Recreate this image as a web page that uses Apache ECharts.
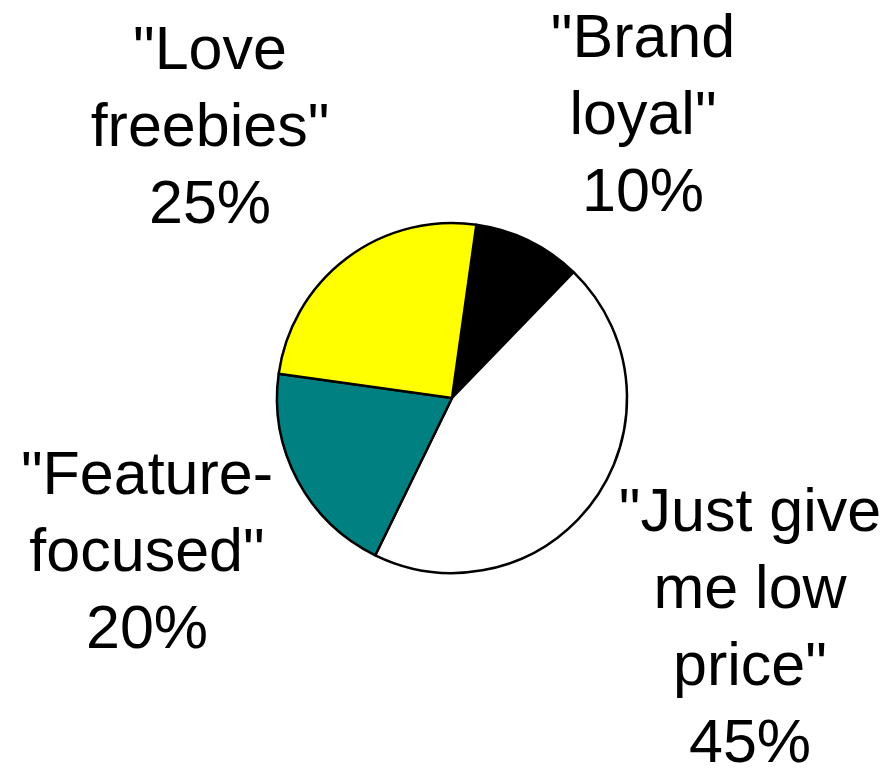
<!doctype html>
<html lang="en">
    <head>
        <meta charset="UTF-8">
        <title>Pie</title>
        <style>
            html, body { margin: 0; padding: 0; background: #fff; }
            #main { width: 890px; height: 770px; }
        </style>
    </head>
    <body>
        <div id="main"></div>
        <script src="https://cdn.jsdelivr.net/npm/echarts@6/dist/echarts.min.js"></script>
        <script type="text/javascript">
        // 数据
        var names = ['"Brand\nloyal"', '"Just give\nme low\nprice"', '"Feature-\nfocused"', '"Love\nfreebies"'];
        var values = [10, 45, 20, 25];
        var colors = ['#000000', '#ffffff', '#008080', '#ffff00'];

        // label anchor (center of each text block)
        var labelPos = [[643, 117], [750, 630], [147, 554], [210, 129]];

        var myChart = echarts.init(document.getElementById('main'));

        var option = {
            backgroundColor: '#fff',
            animation: false,
            series: [
                {
                    type: 'pie',
                    center: [452, 398],
                    radius: 175,
                    startAngle: 82,
                    clockwise: true,
                    data: names.map(function (n, i) {
                        return { name: n, value: values[i], itemStyle: { color: colors[i] } };
                    }),
                    itemStyle: {
                        borderColor: '#000',
                        borderWidth: 2.5
                    },
                    label: {
                        show: true,
                        position: 'outside',
                        formatter: '{b}\n{c}%',
                        fontFamily: 'Liberation Sans, Arial, sans-serif',
                        fontSize: 61,
                        lineHeight: 77,
                        color: '#000',
                        align: 'center',
                        overflow: 'none',
                        width: 400
                    },
                    labelLine: { show: false },
                    labelLayout: function (params) {
                        var p = labelPos[params.dataIndex];
                        return {
                            x: p[0],
                            y: p[1],
                            align: 'center',
                            verticalAlign: 'middle'
                        };
                    },
                    emphasis: { disabled: true }
                }
            ]
        };

        myChart.setOption(option);
        </script>
    </body>
</html>
